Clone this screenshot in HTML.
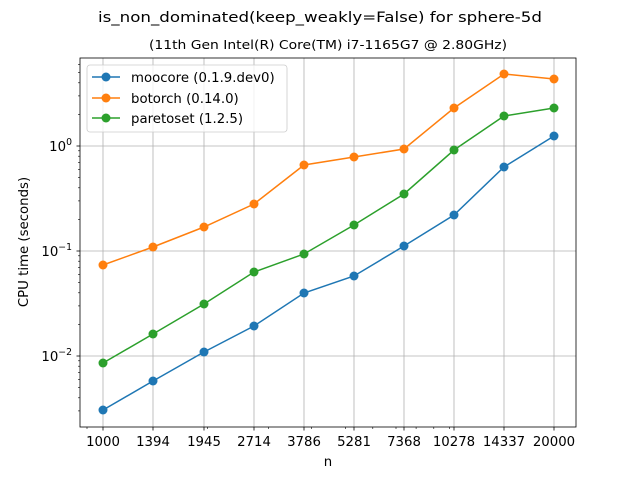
<!DOCTYPE html>
<html><head><meta charset="utf-8"><style>body{margin:0;background:#fff}svg{display:block}text{font-family:"DejaVu Sans","Liberation Sans",sans-serif}</style></head>
<body>
<svg width="640" height="480" viewBox="0 0 640 480" xmlns="http://www.w3.org/2000/svg">
<rect width="640" height="480" fill="#fff"/>
<text x="98" y="22" font-size="14.5" textLength="444" lengthAdjust="spacingAndGlyphs">is_non_dominated(keep_weakly=False) for sphere-5d</text>
<text x="149" y="49" font-size="12" textLength="358" lengthAdjust="spacingAndGlyphs">(11th Gen Intel(R) Core(TM) i7-1165G7 @ 2.80GHz)</text>
<g stroke="#b0b0b0" stroke-width="0.8">
<line x1="103" y1="58" x2="103" y2="427"/><line x1="153" y1="58" x2="153" y2="427"/><line x1="204" y1="58" x2="204" y2="427"/><line x1="254" y1="58" x2="254" y2="427"/><line x1="304" y1="58" x2="304" y2="427"/><line x1="354" y1="58" x2="354" y2="427"/><line x1="404" y1="58" x2="404" y2="427"/><line x1="454" y1="58" x2="454" y2="427"/><line x1="504" y1="58" x2="504" y2="427"/><line x1="554" y1="58" x2="554" y2="427"/>
<line x1="80" y1="146" x2="576" y2="146"/><line x1="80" y1="251" x2="576" y2="251"/><line x1="80" y1="356" x2="576" y2="356"/>
</g>
<g stroke="#000" stroke-width="0.8">
<line x1="80" y1="146" x2="76.5" y2="146"/><line x1="80" y1="251" x2="76.5" y2="251"/><line x1="80" y1="356" x2="76.5" y2="356"/>
<g stroke-width="0.6">
<line x1="80" y1="410.9" x2="78" y2="410.9"/><line x1="80" y1="397.8" x2="78" y2="397.8"/><line x1="80" y1="387.6" x2="78" y2="387.6"/><line x1="80" y1="379.3" x2="78" y2="379.3"/><line x1="80" y1="372.3" x2="78" y2="372.3"/><line x1="80" y1="366.2" x2="78" y2="366.2"/><line x1="80" y1="360.8" x2="78" y2="360.8"/>
<line x1="80" y1="324.4" x2="78" y2="324.4"/><line x1="80" y1="305.9" x2="78" y2="305.9"/><line x1="80" y1="292.8" x2="78" y2="292.8"/><line x1="80" y1="282.6" x2="78" y2="282.6"/><line x1="80" y1="274.3" x2="78" y2="274.3"/><line x1="80" y1="267.3" x2="78" y2="267.3"/><line x1="80" y1="261.2" x2="78" y2="261.2"/><line x1="80" y1="255.8" x2="78" y2="255.8"/>
<line x1="80" y1="219.4" x2="78" y2="219.4"/><line x1="80" y1="200.9" x2="78" y2="200.9"/><line x1="80" y1="187.8" x2="78" y2="187.8"/><line x1="80" y1="177.6" x2="78" y2="177.6"/><line x1="80" y1="169.3" x2="78" y2="169.3"/><line x1="80" y1="162.3" x2="78" y2="162.3"/><line x1="80" y1="156.2" x2="78" y2="156.2"/><line x1="80" y1="150.8" x2="78" y2="150.8"/>
<line x1="80" y1="114.4" x2="78" y2="114.4"/><line x1="80" y1="95.9" x2="78" y2="95.9"/><line x1="80" y1="82.8" x2="78" y2="82.8"/><line x1="80" y1="72.6" x2="78" y2="72.6"/><line x1="80" y1="64.3" x2="78" y2="64.3"/>
<line x1="87" y1="427" x2="87" y2="429"/><line x1="207.4" y1="427" x2="207.4" y2="429"/><line x1="268.4" y1="427" x2="268.4" y2="429"/><line x1="311.7" y1="427" x2="311.7" y2="429"/><line x1="345.3" y1="427" x2="345.3" y2="429"/><line x1="372.8" y1="427" x2="372.8" y2="429"/><line x1="396" y1="427" x2="396" y2="429"/><line x1="416.1" y1="427" x2="416.1" y2="429"/><line x1="433.8" y1="427" x2="433.8" y2="429"/><line x1="449.7" y1="427" x2="449.7" y2="429"/>
</g>
<line x1="103" y1="427" x2="103" y2="430.5"/><line x1="153" y1="427" x2="153" y2="430.5"/><line x1="204" y1="427" x2="204" y2="430.5"/><line x1="254" y1="427" x2="254" y2="430.5"/><line x1="304" y1="427" x2="304" y2="430.5"/><line x1="354" y1="427" x2="354" y2="430.5"/><line x1="404" y1="427" x2="404" y2="430.5"/><line x1="454" y1="427" x2="454" y2="430.5"/><line x1="504" y1="427" x2="504" y2="430.5"/><line x1="554" y1="427" x2="554" y2="430.5"/>
</g>
<g font-size="13.3" text-anchor="middle">
<text x="103" y="446">1000</text><text x="153" y="446">1394</text><text x="204" y="446">1945</text><text x="254" y="446">2714</text><text x="304" y="446">3786</text><text x="354" y="446">5281</text><text x="404" y="446">7368</text><text x="454" y="446">10278</text><text x="504" y="446">14337</text><text x="554" y="446">20000</text>
<text x="328" y="466">n</text>
</g>
<g font-size="13.3" text-anchor="end">
<text x="72" y="151">10<tspan font-size="9.3" dy="-6">0</tspan></text>
<text x="72" y="256">10<tspan font-size="9.3" dy="-6">−1</tspan></text>
<text x="72" y="361">10<tspan font-size="9.3" dy="-6">−2</tspan></text>
</g>
<text transform="translate(28,242) rotate(-90)" font-size="13.3" text-anchor="middle">CPU time (seconds)</text>
<g fill="none" stroke-width="1.5">
<polyline stroke="#1f77b4" points="103,410 153,381 204,352 254,326 304,293 354,276 404,246 454,215 504,167 554,136"/>
<polyline stroke="#ff7f0e" points="103,265 153,247 204,227 254,204 304,165 354,157 404,149 454,108 504,74 554,79"/>
<polyline stroke="#2ca02c" points="103,363 153,334 204,304 254,272 304,254 354,225 404,194 454,150 504,116 554,108"/>
</g>
<g fill="#1f77b4"><circle cx="103" cy="410" r="4.5"/><circle cx="153" cy="381" r="4.5"/><circle cx="204" cy="352" r="4.5"/><circle cx="254" cy="326" r="4.5"/><circle cx="304" cy="293" r="4.5"/><circle cx="354" cy="276" r="4.5"/><circle cx="404" cy="246" r="4.5"/><circle cx="454" cy="215" r="4.5"/><circle cx="504" cy="167" r="4.5"/><circle cx="554" cy="136" r="4.5"/></g>
<g fill="#ff7f0e"><circle cx="103" cy="265" r="4.5"/><circle cx="153" cy="247" r="4.5"/><circle cx="204" cy="227" r="4.5"/><circle cx="254" cy="204" r="4.5"/><circle cx="304" cy="165" r="4.5"/><circle cx="354" cy="157" r="4.5"/><circle cx="404" cy="149" r="4.5"/><circle cx="454" cy="108" r="4.5"/><circle cx="504" cy="74" r="4.5"/><circle cx="554" cy="79" r="4.5"/></g>
<g fill="#2ca02c"><circle cx="103" cy="363" r="4.5"/><circle cx="153" cy="334" r="4.5"/><circle cx="204" cy="304" r="4.5"/><circle cx="254" cy="272" r="4.5"/><circle cx="304" cy="254" r="4.5"/><circle cx="354" cy="225" r="4.5"/><circle cx="404" cy="194" r="4.5"/><circle cx="454" cy="150" r="4.5"/><circle cx="504" cy="116" r="4.5"/><circle cx="554" cy="108" r="4.5"/></g>
<rect x="80" y="58" width="496" height="369" fill="none" stroke="#000" stroke-width="0.8"/>
<rect x="87" y="65" width="200" height="67" rx="3" fill="#fff" fill-opacity="0.8" stroke="#ccc" stroke-width="0.8"/>
<g stroke-width="1.5"><line x1="92" y1="77" x2="120" y2="77" stroke="#1f77b4"/><line x1="92" y1="98" x2="120" y2="98" stroke="#ff7f0e"/><line x1="92" y1="118" x2="120" y2="118" stroke="#2ca02c"/></g>
<circle cx="106" cy="77" r="4.5" fill="#1f77b4"/><circle cx="106" cy="98" r="4.5" fill="#ff7f0e"/><circle cx="106" cy="118" r="4.5" fill="#2ca02c"/>
<g font-size="13.3"><text x="131" y="82">moocore (0.1.9.dev0)</text><text x="131" y="103">botorch (0.14.0)</text><text x="131" y="123">paretoset (1.2.5)</text></g>
</svg>
</body></html>
